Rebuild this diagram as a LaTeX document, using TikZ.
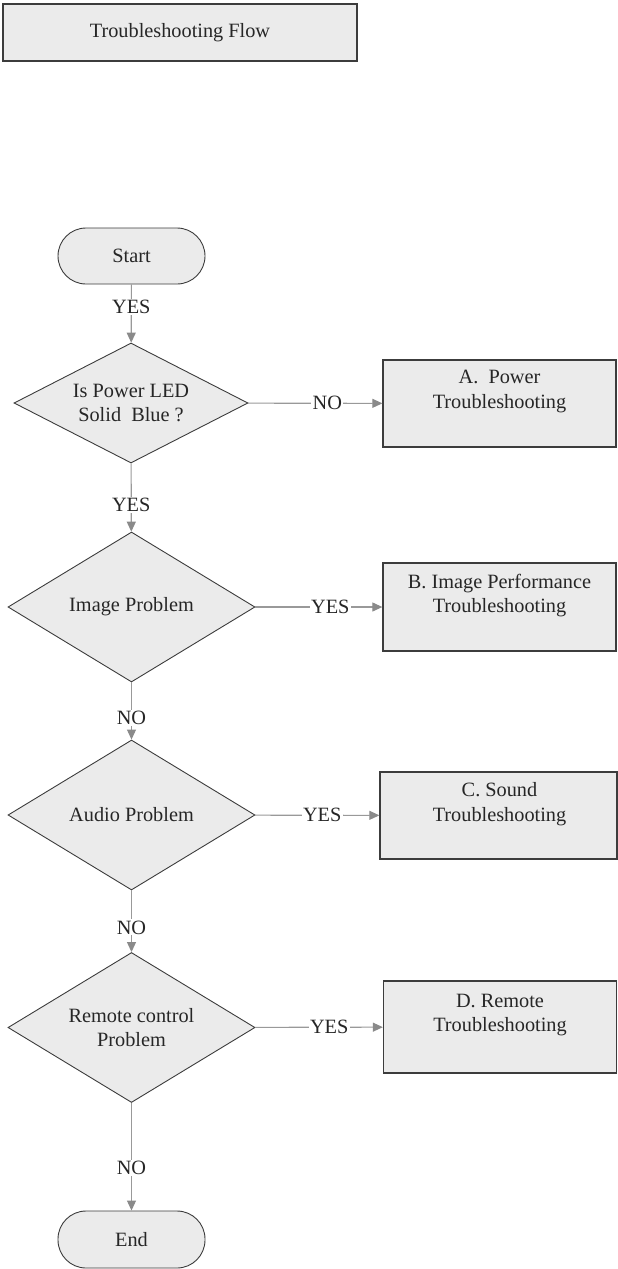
\documentclass[tikz,border=0pt]{standalone}
\usepackage{fontspec}
\setmainfont{Liberation Serif}
\usetikzlibrary{shapes.geometric,arrows.meta}
\definecolor{shapefill}{HTML}{EBEBEB}
\definecolor{edgecol}{HTML}{3C3C3C}
\definecolor{conncol}{HTML}{999999}
\definecolor{tipcol}{HTML}{8A8A8A}
\begin{document}
\begin{tikzpicture}[x=1pt,y=-1pt,
  every node/.style={font=\fontsize{20.3}{24.5}\selectfont, text=black!85},
  titlebox/.style={draw=edgecol, fill=shapefill, line width=1.3pt, minimum width=354pt, minimum height=57pt, inner sep=0pt},
  terminal/.style={draw=edgecol, fill=shapefill, line width=0.9pt, rounded corners=28pt, minimum width=147pt, minimum height=56pt, inner sep=0pt},
  decision/.style={draw=edgecol, fill=shapefill, line width=0.9pt, diamond, aspect=2, inner sep=0pt, align=center},
  actbox/.style={draw=edgecol, fill=shapefill, line width=1.3pt, minimum width=233pt, inner sep=0pt},
  boxtext/.style={align=center, inner sep=0pt},
  conn/.style={draw=conncol, line width=1.1pt, -{Triangle[length=10pt,width=9pt,fill=tipcol,color=tipcol]}},
  lbl/.style={fill=white, inner sep=1.2pt}
]
\useasboundingbox (0,0) rectangle (618,1269);

\node[titlebox] (title) at (180,32.5) {Troubleshooting Flow};

\node[terminal] (start) at (131.5,256) {Start};

\node[decision, minimum width=234pt, minimum height=120pt] (d1) at (131,403) {Is Power LED\\Solid\ \ Blue ?};
\node[decision, minimum width=247pt, minimum height=150pt] (d2) at (131.5,607) {Image Problem};
\node[decision, minimum width=247pt, minimum height=150pt] (d3) at (131.5,815) {Audio Problem};
\node[decision, minimum width=247pt, minimum height=150pt] (d4) at (131.5,1027.5) {Remote control\\Problem};

\node[terminal, minimum height=57pt] (end) at (131.5,1239.5) {End};

\node[actbox, minimum height=87pt] (A) at (499.5,403.5) {};
\node[boxtext] (At) at (499.5,391.5) {A.\ \ Power\\Troubleshooting};
\node[actbox, minimum height=88pt] (B) at (499.5,607) {};
\node[boxtext] (Bt) at (499.5,595.5) {B. Image Performance\\Troubleshooting};
\node[actbox, minimum width=237pt, minimum height=87pt] (C) at (498.5,815.5) {};
\node[boxtext] (Ct) at (499.5,804) {C. Sound\\Troubleshooting};
\node[actbox, minimum height=92pt] (D) at (500,1027) {};
\node[boxtext] (Dt) at (500,1015) {D. Remote\\Troubleshooting};

\draw[conn] (start) -- node[lbl, pos=0.39] (l0) {YES} (d1);
\draw[conn] (d1) -- node[lbl, pos=0.61] (l1) {YES} (d2);
\draw[conn] (d2) -- node[lbl, pos=0.62] (l2) {NO} (d3);
\draw[conn] (d3) -- node[lbl, pos=0.6] (l3) {NO} (d4);
\draw[conn] (d4) -- node[lbl, pos=0.6] (l4) {NO} (end);

\draw[conn] (d1) -- node[lbl, pos=0.59] (r1) {NO} (A);
\draw[conn] (d2) -- node[lbl, pos=0.59] (r2) {YES} (B);
\draw[conn] (d3) -- node[lbl, pos=0.54] (r3) {YES} (C);
\draw[conn] (d4) -- node[lbl, pos=0.58] (r4) {YES} (D);
\end{tikzpicture}
\end{document}
